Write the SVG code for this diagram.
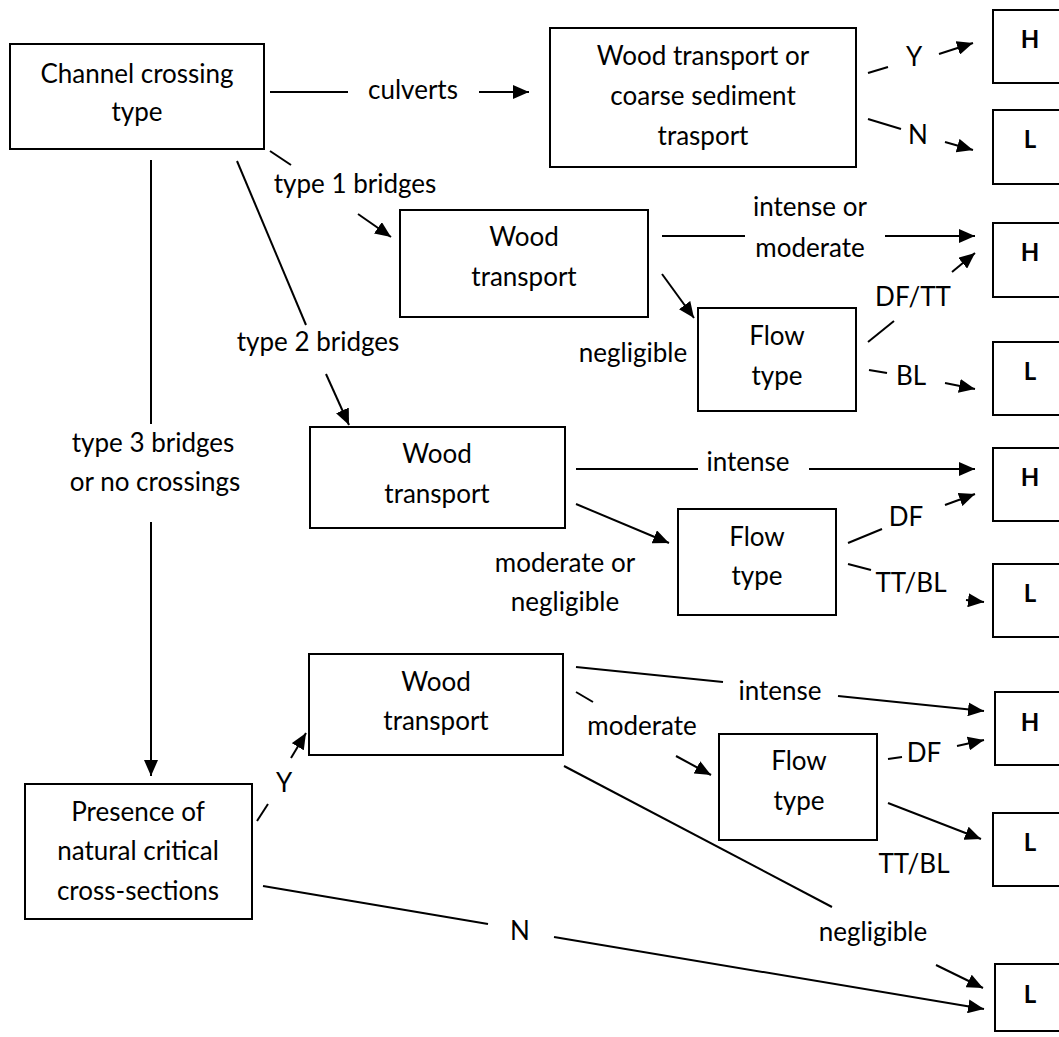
<svg xmlns="http://www.w3.org/2000/svg" width="1059" height="1037" viewBox="0 0 1059 1037">
<style>
rect.n{fill:#fff;stroke:#000;stroke-width:2}
text{font-family:Lato,"Liberation Sans",sans-serif;font-size:26px;fill:#000;text-anchor:middle}
text.b{font-weight:bold;font-size:24px}
line{stroke:#000;stroke-width:2}
line.a{marker-end:url(#ah)}
</style>
<defs>
<marker id="ah" markerUnits="userSpaceOnUse" markerWidth="17" markerHeight="14" refX="16" refY="7" orient="auto">
<path d="M0,0 L16,7 L0,14 z" fill="#000"/>
</marker>
</defs>
<rect width="1059" height="1037" fill="#fff"/>
<g id="n-channel"><rect class="n" x="10" y="44" width="254" height="105"/><text x="137" y="83">Channel crossing</text><text x="137" y="121">type</text></g>
<g id="n-woodsed"><rect class="n" x="550" y="28" width="306" height="139"/><text x="703" y="65">Wood transport or</text><text x="703" y="105">coarse sediment</text><text x="703" y="145">trasport</text></g>
<g id="n-h1"><rect class="n" x="993" y="10" width="80" height="73"/><text class="b" x="1030" y="48">H</text></g>
<g id="n-l1"><rect class="n" x="993" y="110" width="80" height="74"/><text class="b" x="1030" y="148">L</text></g>
<g id="n-wood1"><rect class="n" x="400" y="210" width="248" height="107"/><text x="524" y="246">Wood</text><text x="524" y="286">transport</text></g>
<g id="n-h2"><rect class="n" x="993" y="223" width="80" height="74"/><text class="b" x="1030" y="261">H</text></g>
<g id="n-flow1"><rect class="n" x="698" y="308" width="158" height="103"/><text x="777" y="345">Flow</text><text x="777" y="385">type</text></g>
<g id="n-l2"><rect class="n" x="993" y="342" width="80" height="73"/><text class="b" x="1030" y="380">L</text></g>
<g id="n-wood2"><rect class="n" x="310" y="427" width="255" height="101"/><text x="437" y="463">Wood</text><text x="437" y="503">transport</text></g>
<g id="n-h3"><rect class="n" x="993" y="448" width="80" height="73"/><text class="b" x="1030" y="486">H</text></g>
<g id="n-flow2"><rect class="n" x="678" y="509" width="158" height="106"/><text x="757" y="546">Flow</text><text x="757" y="585">type</text></g>
<g id="n-l3"><rect class="n" x="993" y="564" width="80" height="73"/><text class="b" x="1030" y="602">L</text></g>
<g id="n-wood3"><rect class="n" x="309" y="654" width="254" height="101"/><text x="436" y="691">Wood</text><text x="436" y="730">transport</text></g>
<g id="n-h4"><rect class="n" x="995" y="692" width="80" height="73"/><text class="b" x="1030" y="731">H</text></g>
<g id="n-flow3"><rect class="n" x="719" y="734" width="158" height="106"/><text x="799" y="770">Flow</text><text x="799" y="810">type</text></g>
<g id="n-l4"><rect class="n" x="993" y="813" width="80" height="73"/><text class="b" x="1030" y="851">L</text></g>
<g id="n-presence"><rect class="n" x="25" y="784" width="227" height="135"/><text x="138" y="821">Presence of</text><text x="138" y="860">natural critical</text><text x="138" y="900">cross-sections</text></g>
<g id="n-l5"><rect class="n" x="995" y="964" width="80" height="67"/><text class="b" x="1030" y="1003">L</text></g>
<g id="connectors">
<line x1="270" y1="92" x2="348" y2="92"/><line class="a" x1="479" y1="92" x2="529" y2="92"/>
<text x="413" y="99">culverts</text>
<line x1="270" y1="151" x2="291" y2="165"/><line class="a" x1="358" y1="214" x2="391" y2="237"/>
<text x="355" y="193">type 1 bridges</text>
<line x1="237" y1="161" x2="306" y2="325"/><line class="a" x1="326" y1="374" x2="349" y2="425"/>
<text x="318" y="351">type 2 bridges</text>
<line x1="151" y1="160" x2="151" y2="424"/><line class="a" x1="151" y1="522" x2="151" y2="776"/>
<text x="153" y="452">type 3 bridges</text><text x="155" y="491">or no crossings</text>
<line x1="868" y1="73" x2="888" y2="67"/><line class="a" x1="939" y1="54" x2="973" y2="43"/>
<text x="914" y="66">Y</text>
<line x1="868" y1="119" x2="901" y2="129"/><line class="a" x1="945" y1="142" x2="973" y2="150"/>
<text x="918" y="144">N</text>
<line x1="662" y1="236" x2="745" y2="236"/><line class="a" x1="885" y1="236" x2="975" y2="236"/>
<text x="810" y="216">intense or</text><text x="810" y="257">moderate</text>
<line class="a" x1="662" y1="274" x2="694" y2="318"/>
<text x="633" y="362">negligible</text>
<line x1="868" y1="342" x2="894" y2="321"/><line class="a" x1="952" y1="272" x2="975" y2="253"/>
<text x="913" y="306">DF/TT</text>
<line x1="869" y1="370" x2="887" y2="373"/><line class="a" x1="945" y1="383" x2="975" y2="389"/>
<text x="911" y="385">BL</text>
<line x1="576" y1="469" x2="698" y2="469"/><line class="a" x1="809" y1="469" x2="975" y2="469"/>
<text x="748" y="471">intense</text>
<line class="a" x1="576" y1="504" x2="669" y2="543"/>
<text x="565" y="572">moderate or</text><text x="565" y="611">negligible</text>
<line x1="848" y1="543" x2="882" y2="529"/><line class="a" x1="945" y1="505" x2="975" y2="494"/>
<text x="906" y="526">DF</text>
<line x1="848" y1="564" x2="871" y2="570"/><line class="a" x1="966" y1="600" x2="984" y2="602"/>
<text x="911" y="592">TT/BL</text>
<line x1="576" y1="667" x2="723" y2="682"/><line class="a" x1="838" y1="696" x2="984" y2="711"/>
<text x="780" y="700">intense</text>
<line x1="576" y1="692" x2="593" y2="702"/><line class="a" x1="676" y1="756" x2="711" y2="775"/>
<text x="642" y="735">moderate</text>
<line x1="888" y1="759" x2="902" y2="757"/><line class="a" x1="957" y1="746" x2="984" y2="740"/>
<text x="924" y="762">DF</text>
<line class="a" x1="888" y1="803" x2="981" y2="839"/>
<text x="914" y="873">TT/BL</text>
<line x1="564" y1="766" x2="832" y2="907"/><line class="a" x1="936" y1="965" x2="983" y2="988"/>
<text x="873" y="941">negligible</text>
<line x1="263" y1="886" x2="488" y2="924"/><line class="a" x1="554" y1="937" x2="984" y2="1009"/>
<text x="520" y="940">N</text>
<line x1="257" y1="821" x2="268" y2="804"/><line class="a" x1="291" y1="758" x2="306" y2="733"/>
<text x="284" y="792">Y</text>
</g>
</svg>
